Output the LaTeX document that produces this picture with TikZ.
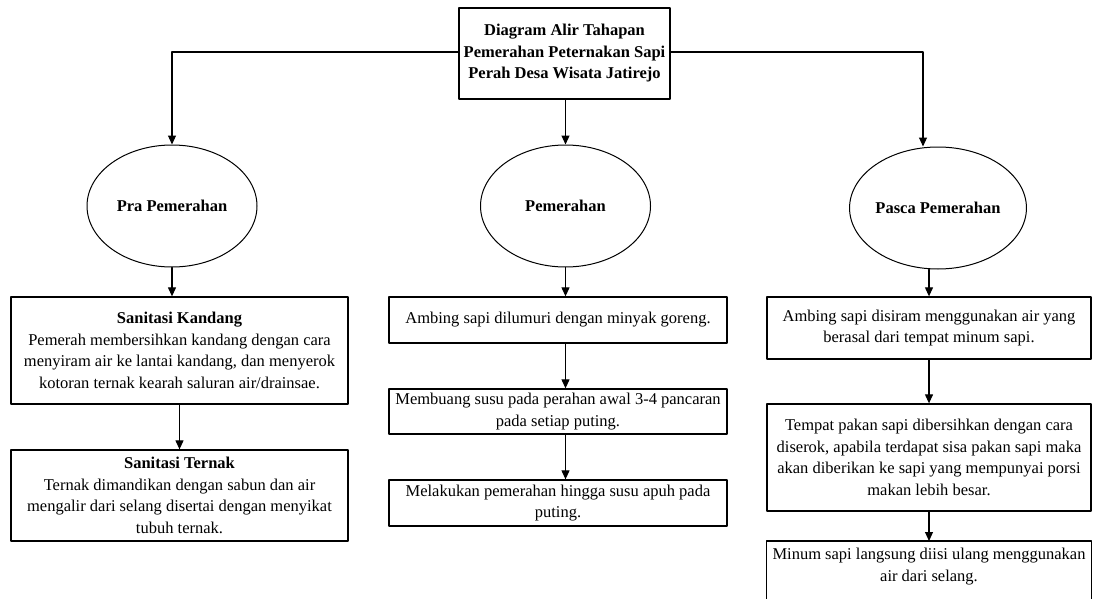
\documentclass[tikz,border=0pt]{standalone}
\usepackage{fontspec}
\setmainfont{Liberation Serif}
\usetikzlibrary{arrows.meta,shapes.geometric}

\begin{document}
\begin{tikzpicture}[line cap=round,line join=round,>={Triangle[length=9pt,width=8pt]},x=1pt,y=-1pt,
		kotak/.style={draw,line width=1.3pt,align=center,inner sep=0pt,font=\fontsize{16.5}{21.5}\selectfont},
		bulat/.style={draw,ellipse,line width=1pt,inner sep=0pt,minimum width=170pt,minimum height=122pt,font=\fontsize{16.5}{20}\selectfont\bfseries},
		panah/.style={->,line width=1.1pt}]
		\useasboundingbox (0,0) rectangle (1094,599);
		% judul
		\node[kotak,minimum width=211pt,minimum height=91pt,font=\fontsize{16.5}{21.5}\selectfont\bfseries] (judul) at (564.5,53.5) {Diagram Alir Tahapan\\Pemerahan Peternakan Sapi\\Perah Desa Wisata Jatirejo};
		% tiga tahap
		\node[bulat] (pra) at (172,206) {Pra Pemerahan};
		\node[bulat] (perah) at (565.5,206) {Pemerahan};
		\node[bulat] (pasca) at (938,208) {Pasca Pemerahan};
		\coordinate (kiri) at (172,52);
		\coordinate (kanan) at (923,52);
		\draw[panah] (judul.west |- kiri) -- (kiri) -- (pra.north);
		\draw[panah] (perah.north |- judul.south) -- (perah.north);
		\draw[panah] (judul.east |- kanan) -- (kanan) -- (kanan |- pasca.north);
		% pra pemerahan
		\node[kotak,minimum width=337pt,minimum height=107pt] (kandang) at (179.5,350.5) {\textbf{Sanitasi Kandang}\\Pemerah membersihkan kandang dengan cara\\menyiram air ke lantai kandang, dan menyerok\\kotoran ternak kearah saluran air/drainsae.};
		\node[kotak,minimum width=337pt,minimum height=91pt] (ternak) at (179.5,495.5) {\textbf{Sanitasi Ternak}\\Ternak dimandikan dengan sabun dan air\\mengalir dari selang disertai dengan menyikat\\tubuh ternak.};
		\draw[panah] (pra.south) -- (pra.south |- kandang.north);
		\draw[panah] (kandang.south) -- (ternak.north);
		% pemerahan
		\node[kotak,minimum width=338pt,minimum height=46pt] (lumur) at (558,320) {Ambing sapi dilumuri dengan minyak goreng.};
		\node[kotak,minimum width=338pt,minimum height=45pt] (buang) at (558,411.5) {Membuang susu pada perahan awal 3-4 pancaran\\pada setiap puting.};
		\node[kotak,minimum width=338pt,minimum height=46pt] (habis) at (558,503) {Melakukan pemerahan hingga susu apuh pada\\puting.};
		\draw[panah] (perah.south) -- (perah.south |- lumur.north);
		\draw[panah] (lumur.south -| perah) -- (buang.north -| perah);
		\draw[panah] (buang.south -| perah) -- (habis.north -| perah);
		% pasca pemerahan
		\node[kotak,minimum width=324pt,minimum height=62pt] (siram) at (929,328) {Ambing sapi disiram menggunakan air yang\\berasal dari tempat minum sapi.};
		\node[kotak,minimum width=324pt,minimum height=107pt] (pakan) at (929,457.5) {Tempat pakan sapi dibersihkan dengan cara\\diserok, apabila terdapat sisa pakan sapi maka\\akan diberikan ke sapi yang mempunyai porsi\\makan lebih besar.};
		\node[kotak,draw=none,minimum width=324pt,minimum height=50pt,anchor=north] (minum) at (929,541) {Minum sapi langsung diisi ulang menggunakan\\air dari selang.};
		\draw[line width=1.3pt] ([yshift=-30pt]minum.south west) -- (minum.north west) -- (minum.north east) -- ([yshift=-30pt]minum.south east);
		\draw[panah] (pasca.south -| siram.north) -- (siram.north);
		\draw[panah] (siram.south) -- (pakan.north);
		\draw[panah] (pakan.south) -- (minum.north);
\end{tikzpicture}
\end{document}
